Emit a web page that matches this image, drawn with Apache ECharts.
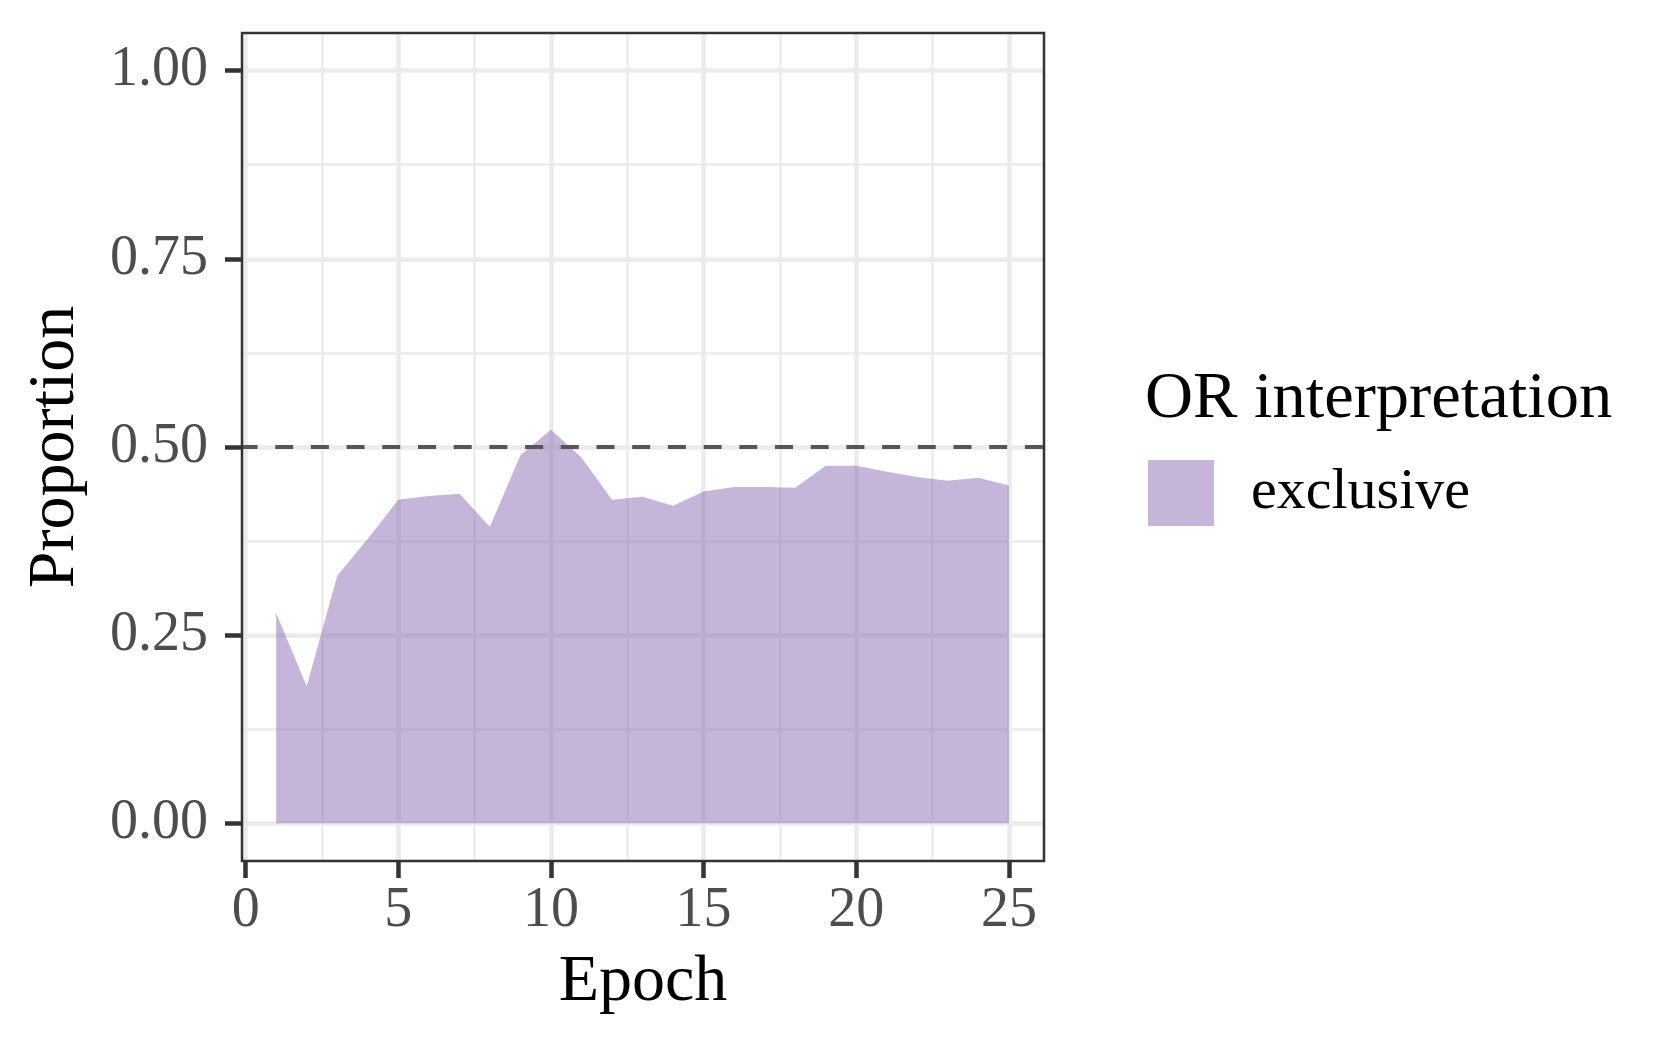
<!DOCTYPE html>
<html>
<head>
<meta charset="utf-8">
<script src="https://cdn.jsdelivr.net/npm/echarts@6/dist/echarts.min.js"></script>
<style>
html,body{margin:0;padding:0;background:#fff;}
#chart{width:1680px;height:1050px;}
</style>
</head>
<body>
<div id="chart"></div>
<script>
const epochs = [1,2,3,4,5,6,7,8,9,10,11,12,13,14,15,16,17,18,19,20,21,22,23,24,25];
const exclusive = [0.279,0.182,0.329,0.378,0.430,0.435,0.438,0.394,0.489,0.523,0.486,0.430,0.434,0.422,0.441,0.447,0.447,0.446,0.475,0.475,0.467,0.460,0.455,0.459,0.449];
const xTicks = [0,5,10,15,20,25];
const xMinor = [2.5,7.5,12.5,17.5,22.5];
const yTicks = [0,0.25,0.5,0.75,1];
const yMinor = [0.125,0.375,0.625,0.875];
const refLine = 0.5;
const seriesName = 'exclusive';
const legendTitle = 'OR interpretation';

const FONT = 'Liberation Serif';
const chart = echarts.init(document.getElementById('chart'));

const option = {
  animation:false,
  backgroundColor:'#ffffff',
  title:{
    text:legendTitle, left:1145, top:366, padding:0,
    textStyle:{fontFamily:FONT, fontSize:66.5, fontWeight:'normal', color:'#000'}
  },
  legend:{
    left:1148, top:460, padding:0, orient:'vertical',
    itemWidth:66, itemHeight:66,
    data:[{name:seriesName, icon:'rect', itemStyle:{color:'#c4b5d9', borderWidth:0}}],
    textStyle:{fontFamily:FONT, fontSize:58, color:'#000', padding:[0,0,0,32]}
  },
  grid:{
    left:242, top:33, width:802, height:828,
    show:true, borderColor:'#333333', borderWidth:2.5, backgroundColor:'transparent', z:10
  },
  xAxis:[
    {
      type:'value', min:-0.12, max:26.15, position:'bottom',
      name:'Epoch', nameLocation:'middle', nameGap:89,
      nameTextStyle:{fontFamily:FONT, fontSize:66, color:'#000'},
      axisLine:{show:false, onZero:false},
      axisTick:{show:true, inside:false, length:17, customValues:xTicks, lineStyle:{color:'#333333', width:4.5}},
      axisLabel:{show:true, customValues:xTicks, margin:22, fontFamily:FONT, fontSize:56, color:'#4d4d4d'},
      splitLine:{show:true, lineStyle:{color:'#ebebeb', width:4.5}}
    },
    {
      type:'value', min:-0.12, max:26.15, position:'top',
      axisLine:{show:false, onZero:false},
      axisTick:{show:false, customValues:xMinor},
      axisLabel:{show:false, customValues:xMinor},
      splitLine:{show:true, lineStyle:{color:'#ebebeb', width:2.5}}
    }
  ],
  yAxis:[
    {
      type:'value', min:-0.05, max:1.05, position:'left',
      name:'Proportion', nameLocation:'middle', nameGap:153,
      nameTextStyle:{fontFamily:FONT, fontSize:66, color:'#000'},
      axisLine:{show:false, onZero:false},
      axisTick:{show:true, inside:false, length:17, customValues:yTicks, lineStyle:{color:'#333333', width:4.5}},
      axisLabel:{show:true, customValues:yTicks, margin:34, fontFamily:FONT, fontSize:56, color:'#4d4d4d',
        formatter:v=>Number(v).toFixed(2)},
      splitLine:{show:true, lineStyle:{color:'#ebebeb', width:4.5}}
    },
    {
      type:'value', min:-0.05, max:1.05, position:'right',
      axisLine:{show:false, onZero:false},
      axisTick:{show:false, customValues:yMinor},
      axisLabel:{show:false, customValues:yMinor},
      splitLine:{show:true, lineStyle:{color:'#ebebeb', width:2.5}}
    }
  ],
  series:[
    {
      name:seriesName, type:'line', xAxisIndex:0, yAxisIndex:0,
      data:epochs.map((e,i)=>[e, exclusive[i]]),
      symbol:'none', showSymbol:false, smooth:false,
      lineStyle:{width:0, opacity:0},
      itemStyle:{color:'#c4b5d9'},
      areaStyle:{color:'rgba(137,107,179,0.5)', opacity:1, origin:'auto'},
      z:2,
      markLine:{
        silent:true, symbol:['none','none'], label:{show:false},
        lineStyle:{color:'#555555', width:4, type:[18,17.7], dashOffset:2.5},
        data:[{yAxis:refLine}],
        z:5
      }
    }
  ]
};
chart.setOption(option);
</script>
</body>
</html>
